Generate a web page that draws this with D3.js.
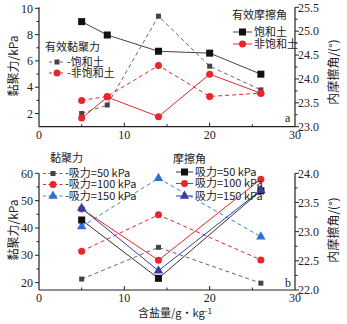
<!DOCTYPE html>
<html>
<head>
<meta charset="utf-8">
<script src="https://cdn.jsdelivr.net/npm/d3@7"></script>
<style>
  body { margin: 0; background: #fff; }
  svg { display: block; }
  .num { font-family: "Liberation Serif", "DejaVu Serif", serif; font-size: 12px; fill: #222; }
  .cjk { font-family: "Noto Sans CJK SC", sans-serif; font-size: 11px; fill: #222; }
</style>
</head>
<body>
<script>
// salt content (g/kg)
const saltA = [5, 8, 14, 20, 26];
const saltB = [5, 14, 26];
const xTicks = [0, 10, 20, 30];

// panel a: effective cohesion (kPa) and effective friction angle (deg)
const cohesionSat = [2.0, 2.65, 9.4, 5.6, 3.8];
const cohesionUnsat = [3.0, 3.3, 5.65, 3.3, 3.55];
const frictionSat = [25.2, 24.92, 24.58, 24.54, 24.1];
const frictionUnsat = [23.18, 23.62, 23.21, 24.1, 23.7];

// panel b: suction 50 / 100 / 150 kPa
const cohesion50 = [21.3, 32.9, 19.8];
const cohesion100 = [31.5, 44.8, 28.3];
const cohesion150 = [40.5, 58.2, 36.8];
const friction50 = [23.2, 22.2, 23.7];
const friction100 = [23.39, 22.51, 23.9];
const friction150 = [23.4, 22.33, 23.71];

const legendA1 = ["饱和土", "非饱和土"];
const legendB = ["吸力=50 kPa", "吸力=100 kPa", "吸力=150 kPa"];

const width = 347, height = 324;
const svg = d3.select("body").append("svg")
  .attr("width", width).attr("height", height);

const x = d3.scaleLinear().domain([0, 30]).range([39, 295]);

const red = "#e8262b", gray = "#555", black = "#111";
const blueDash = "#3d7fd6", blueSolid = "#3b3ba8";

function marker(g, shape, cx, cy, color, size) {
  if (shape === "square") {
    g.append("rect").attr("x", cx - size / 2).attr("y", cy - size / 2)
      .attr("width", size).attr("height", size).attr("fill", color);
  } else if (shape === "circle") {
    g.append("circle").attr("cx", cx).attr("cy", cy).attr("r", size / 2).attr("fill", color);
  } else {
    const sym = d3.symbol().type(d3.symbolTriangle).size(size * size * 0.6);
    g.append("path").attr("transform", `translate(${cx},${cy})`)
      .attr("d", sym()).attr("fill", color);
  }
}

function series(g, xs, ys, yScale, opts) {
  const line = d3.line().x((d, i) => x(xs[i])).y((d) => yScale(d));
  g.append("path").datum(ys)
    .attr("fill", "none")
    .attr("stroke", opts.line)
    .attr("stroke-width", 1)
    .attr("stroke-dasharray", opts.dash ? "4,3" : null)
    .attr("d", line);
  ys.forEach((v, i) => marker(g, opts.shape, x(xs[i]), yScale(v), opts.color, opts.size));
}

function legendItem(g, x0, x1, y, opts, label) {
  g.append("line").attr("x1", x0).attr("x2", x1).attr("y1", y).attr("y2", y)
    .attr("stroke", opts.line).attr("stroke-width", 1)
    .attr("stroke-dasharray", opts.dash ? "3,2.5" : null);
  marker(g, opts.shape, (x0 + x1) / 2, y, opts.color, opts.size);
  g.append("text").attr("class", "cjk").attr("x", x1 + 2).attr("y", y).attr("dy", "0.36em").text(label);
}

function drawAxes(yL, yR, leftTicks, leftMinor, rightTicks, rightMinor, bottomY, topY, fmtR) {
  const g = svg.append("g");
  // bottom axis
  g.append("line").attr("x1", x(0)).attr("x2", x(30)).attr("y1", bottomY).attr("y2", bottomY)
    .attr("stroke", "#222").attr("stroke-width", 1.2);
  [5, 10, 15, 20, 25].forEach((t) => {
    const len = t % 10 === 0 ? 4 : 2.5;
    g.append("line").attr("x1", x(t)).attr("x2", x(t)).attr("y1", bottomY).attr("y2", bottomY - len)
      .attr("stroke", "#222");
  });
  xTicks.forEach((t) => {
    g.append("text").attr("class", "num").attr("x", x(t)).attr("y", bottomY + 12)
      .attr("text-anchor", "middle").text(t);
  });
  // left axis
  g.append("line").attr("x1", x(0)).attr("x2", x(0)).attr("y1", topY).attr("y2", bottomY)
    .attr("stroke", "#222").attr("stroke-width", 1.2);
  leftMinor.forEach((t) => {
    g.append("line").attr("x1", x(0) - 2.5).attr("x2", x(0)).attr("y1", yL(t)).attr("y2", yL(t)).attr("stroke", "#222");
  });
  leftTicks.forEach((t) => {
    g.append("line").attr("x1", x(0) - 4).attr("x2", x(0)).attr("y1", yL(t)).attr("y2", yL(t)).attr("stroke", "#222");
    g.append("text").attr("class", "num").attr("x", x(0) - 6).attr("y", yL(t)).attr("dy", "0.35em")
      .attr("text-anchor", "end").text(t);
  });
  // right axis
  g.append("line").attr("x1", x(30)).attr("x2", x(30)).attr("y1", topY).attr("y2", bottomY)
    .attr("stroke", "#222").attr("stroke-width", 1.2);
  rightMinor.forEach((t) => {
    g.append("line").attr("x1", x(30)).attr("x2", x(30) + 2.5).attr("y1", yR(t)).attr("y2", yR(t)).attr("stroke", "#222");
  });
  rightTicks.forEach((t) => {
    g.append("line").attr("x1", x(30)).attr("x2", x(30) + 4).attr("y1", yR(t)).attr("y2", yR(t)).attr("stroke", "#222");
    g.append("text").attr("class", "num").attr("x", x(30) + 3).attr("y", yR(t)).attr("dy", "0.35em")
      .text(fmtR(t));
  });
}

function yLabel(text, cx, cy) {
  svg.append("text").attr("class", "cjk").style("font-size", "12px")
    .attr("transform", `translate(${cx},${cy}) rotate(-90)`)
    .attr("text-anchor", "middle").attr("dy", "0.35em").text(text);
}

// ---------- panel a ----------
const yA = d3.scaleLinear().domain([1, 10]).range([126.7, 8.3]);
const yAR = d3.scaleLinear().domain([23, 25.5]).range([126.7, 7.3]);

drawAxes(yA, yAR, [2, 4, 6, 8, 10], [3, 5, 7, 9], d3.range(23, 25.51, 0.5), d3.range(23.25, 25.5, 0.5),
  126.7, 7.3, d3.format(".1f"));

const sA = { line: "#666", color: "#444", shape: "square", size: 5, dash: true };
const uA = { line: red, color: red, shape: "circle", size: 7, dash: true };
const sAf = { line: "#444", color: black, shape: "square", size: 7, dash: false };
const uAf = { line: red, color: red, shape: "circle", size: 7, dash: false };

const gA = svg.append("g");
series(gA, saltA, cohesionSat, yA, sA);
series(gA, saltA, cohesionUnsat, yA, uA);
series(gA, saltA, frictionSat, yAR, sAf);
series(gA, saltA, frictionUnsat, yAR, uAf);

gA.append("text").attr("class", "cjk").attr("x", 45).attr("y", 47).attr("dy", "0.35em").text("有效黏聚力");
legendItem(gA, 49, 65, 62, sA, "-" + legendA1[0]);
legendItem(gA, 49, 65, 73, uA, "-" + legendA1[1]);
gA.append("text").attr("class", "cjk").attr("x", 232).attr("y", 15).attr("dy", "0.35em").text("有效摩擦角");
legendItem(gA, 233, 252, 32, sAf, legendA1[0]);
legendItem(gA, 233, 252, 44, uAf, legendA1[1]);
gA.append("text").attr("class", "num").attr("x", 285).attr("y", 118).attr("dy", "0.35em").text("a");

yLabel("黏聚力/kPa", 14, 66);
yLabel("内摩擦角/(°)", 334, 72);

// ---------- panel b ----------
const yB = d3.scaleLinear().domain([17.3, 60]).range([290, 173.3]);
const yBR = d3.scaleLinear().domain([22, 24]).range([290, 173.3]);

drawAxes(yB, yBR, [20, 30, 40, 50, 60], [25, 35, 45, 55], d3.range(22, 24.01, 0.5), d3.range(22.25, 24, 0.5),
  290, 173.3, d3.format(".1f"));

const c50 = { line: "#666", color: "#444", shape: "square", size: 5, dash: true };
const c100 = { line: red, color: red, shape: "circle", size: 7, dash: true };
const c150 = { line: blueDash, color: "#2e6fd8", shape: "triangle", size: 8, dash: true };
const f50 = { line: "#333", color: black, shape: "square", size: 7, dash: false };
const f100 = { line: red, color: red, shape: "circle", size: 7, dash: false };
const f150 = { line: blueSolid, color: blueSolid, shape: "triangle", size: 8, dash: false };

const gB = svg.append("g");
series(gB, saltB, cohesion50, yB, c50);
series(gB, saltB, cohesion100, yB, c100);
series(gB, saltB, cohesion150, yB, c150);
series(gB, saltB, friction50, yBR, f50);
series(gB, saltB, friction100, yBR, f100);
series(gB, saltB, friction150, yBR, f150);

gB.append("text").attr("class", "cjk").attr("x", 50).attr("y", 158).attr("dy", "0.35em").text("黏聚力");
legendItem(gB, 43, 63, 173.5, c50, "-" + legendB[0]);
legendItem(gB, 43, 63, 184.5, c100, "-" + legendB[1]);
legendItem(gB, 43, 63, 196, c150, "-" + legendB[2]);
gB.append("text").attr("class", "cjk").attr("x", 173).attr("y", 159).attr("dy", "0.35em").text("摩擦角");
legendItem(gB, 176, 193, 172, f50, legendB[0]);
legendItem(gB, 176, 193, 183.5, f100, legendB[1]);
legendItem(gB, 176, 193, 196, f150, legendB[2]);
gB.append("text").attr("class", "num").attr("x", 285).attr("y", 283).attr("dy", "0.35em").text("b");

yLabel("黏聚力/kPa", 14, 230);
yLabel("内摩擦角/(°)", 334, 230);

// x-axis title
const xt = svg.append("text").attr("class", "cjk").attr("x", 138).attr("y", 313).attr("dy", "0.35em");
xt.append("tspan").text("含盐量/g·kg");
xt.append("tspan").attr("dy", "-0.4em").style("font-size", "8px").text("-1");
</script>
</body>
</html>
